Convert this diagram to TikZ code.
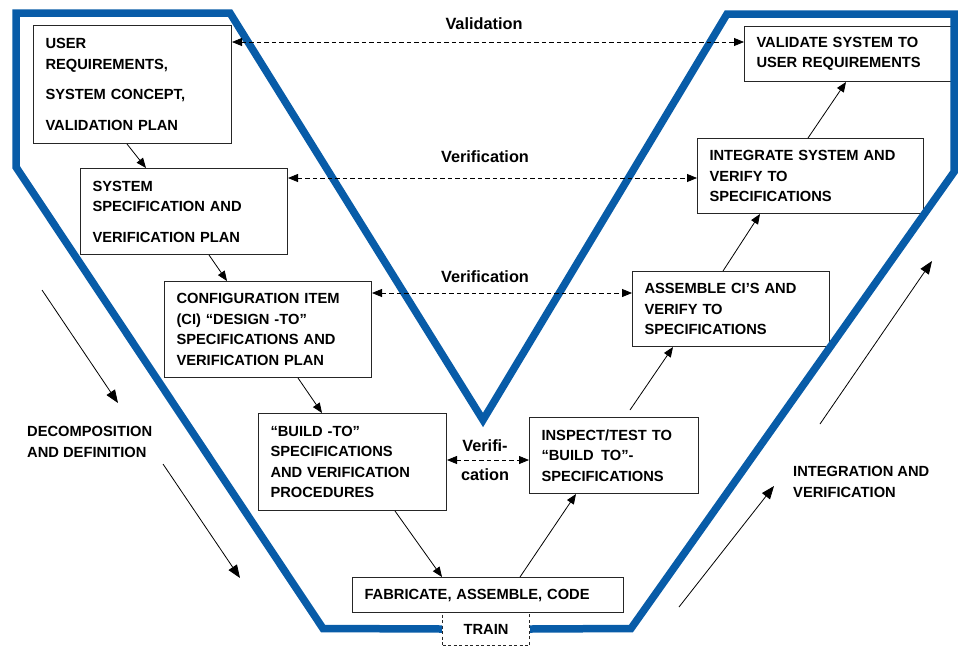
\documentclass[tikz,border=0pt]{standalone}
\usepackage{fontspec}
\setmainfont{Liberation Sans}
\usepackage{xcolor}
\usepackage{tikz}
\usetikzlibrary{arrows.meta,calc}
\definecolor{vblue}{RGB}{8,92,168}

\begin{document}
\begin{tikzpicture}[x=1pt,y=-1pt,
    box/.style={draw=black!85,line width=1pt,anchor=north west,align=left,
        inner xsep=12pt,inner ysep=0pt,font=\fontsize{14.7}{20.5}\selectfont\bfseries},
    lbl/.style={font=\fontsize{16.3}{20}\selectfont\bfseries,anchor=base},
    side/.style={font=\fontsize{14.7}{20.5}\selectfont\bfseries,align=left,anchor=west,inner sep=0pt},
    flow/.style={-{Triangle[length=10pt,width=8pt]},line width=0.8pt},
    big/.style={-{Triangle[length=13pt,width=10pt]},line width=0.8pt},
    check/.style={{Triangle[length=10pt,width=8pt]}-{Triangle[length=10pt,width=8pt]},
        line width=0.8pt,dash pattern=on 4.5pt off 3pt}]
    \useasboundingbox (0,0) rectangle (958,646);
    % Left side boxes
    \node[box,text width=174pt,minimum height=118pt] (userreq) at (33,25)
        {USER\\REQUIREMENTS,\\[10pt]SYSTEM CONCEPT,\\[10pt]VALIDATION PLAN};
    \node[box,text width=183pt,minimum height=86pt] (sysspec) at (80,168)
        {SYSTEM\\SPECIFICATION AND\\[10pt]VERIFICATION PLAN};
    \node[box,text width=183pt,minimum height=96pt] (cidesign) at (164,281)
        {CONFIGURATION ITEM\\(CI) “DESIGN -TO”\\SPECIFICATIONS AND\\VERIFICATION PLAN};
    \node[box,text width=164pt,minimum height=97pt] (buildto) at (258,413)
        {“BUILD -TO”\\SPECIFICATIONS\\AND VERIFICATION\\PROCEDURES};
    % Bottom
    \node[box,text width=247pt,minimum height=35pt] (fabricate) at (352,577)
        {FABRICATE, ASSEMBLE, CODE};
    \node[box,dash pattern=on 3pt off 2.5pt,align=center,text width=63pt,minimum height=33pt] (train) at (442,612)
        {TRAIN};
    % Right side boxes
    \node[box,text width=145pt,minimum height=76pt] (inspect) at (529,417)
        {INSPECT/TEST TO\\“BUILD \,TO”-\\SPECIFICATIONS};
    \node[box,text width=173pt,minimum height=75pt] (assemble) at (632,271)
        {ASSEMBLE CI’S AND\\VERIFY TO\\SPECIFICATIONS};
    \node[box,text width=202pt,minimum height=75pt] (integrate) at (697,138)
        {INTEGRATE SYSTEM AND\\VERIFY TO\\SPECIFICATIONS};
    \node[box,text width=183pt,minimum height=55pt] (validate) at (744,26)
        {VALIDATE SYSTEM TO\\USER REQUIREMENTS};
    % The V
    \draw[vblue,line width=7.5pt] (train.west) -- (323,628.5) -- (16,167) -- (16,13)
        -- (230,13) -- (483,420) -- (727,14) -- (954,14) -- (954,172)
        -- (631,628.5) -- (train.east);
    % Flow arrows
    \foreach \a/\sa/\b/\sb in {userreq/94/sysspec/66,sysspec/129/cidesign/63,
        cidesign/134/buildto/64,buildto/137/fabricate/90} {
        \draw[flow] ([xshift=\sa pt]\a.south west) -- ([xshift=\sb pt]\b.north west);
    }
    \draw[flow] ([xshift=168pt]fabricate.north west) -- ([xshift=47pt]inspect.south west);
    \draw[flow] ([xshift=101pt,yshift=7pt]inspect.north west) -- ([xshift=41pt]assemble.south west);
    \draw[flow] ([xshift=91pt]assemble.north west) -- ([xshift=63pt]integrate.south west);
    \draw[flow] ([xshift=111pt]integrate.north west) -- ([xshift=102pt]validate.south west);
    % Validation and verification
    \draw[check] ([yshift=-17pt]userreq.north east) -- ([yshift=-16pt]validate.north west);
    \draw[check] ([yshift=-10pt]sysspec.north east) -- ([yshift=-40pt]integrate.north west);
    \draw[check] ([yshift=-12pt]cidesign.north east) -- ([yshift=-22pt]assemble.north west);
    \draw[check] ([yshift=-47pt]buildto.north east) -- ([yshift=-43pt]inspect.north west);
    \node[lbl] (valtxt) at (484,29) {Validation};
    \node[lbl] (vertxtA) at (485,162) {Verification};
    \node[lbl] (vertxtB) at (485,282) {Verification};
    \node[lbl,align=center,anchor=center] (vertxtC) at (485,460) {Verifi-\\[9.5pt]cation};
    % Side arrows
    \coordinate (decA) at (42,290);
    \coordinate (decB) at (118,403);
    \coordinate (decC) at (163,464);
    \coordinate (decD) at (240,578);
    \draw[big] (decA) -- (decB);
    \draw[big] (decC) -- (decD);
    \node[side] (dectxt) at (27,442) {DECOMPOSITION\\AND DEFINITION};
    \coordinate (intA) at (679,607);
    \coordinate (intB) at (774,486);
    \coordinate (intC) at (820,424);
    \coordinate (intD) at (932,261);
    \draw[big] (intA) -- (intB);
    \draw[big] (intC) -- (intD);
    \node[side] (inttxt) at (793,482) {INTEGRATION AND\\VERIFICATION};
\end{tikzpicture}
\end{document}
